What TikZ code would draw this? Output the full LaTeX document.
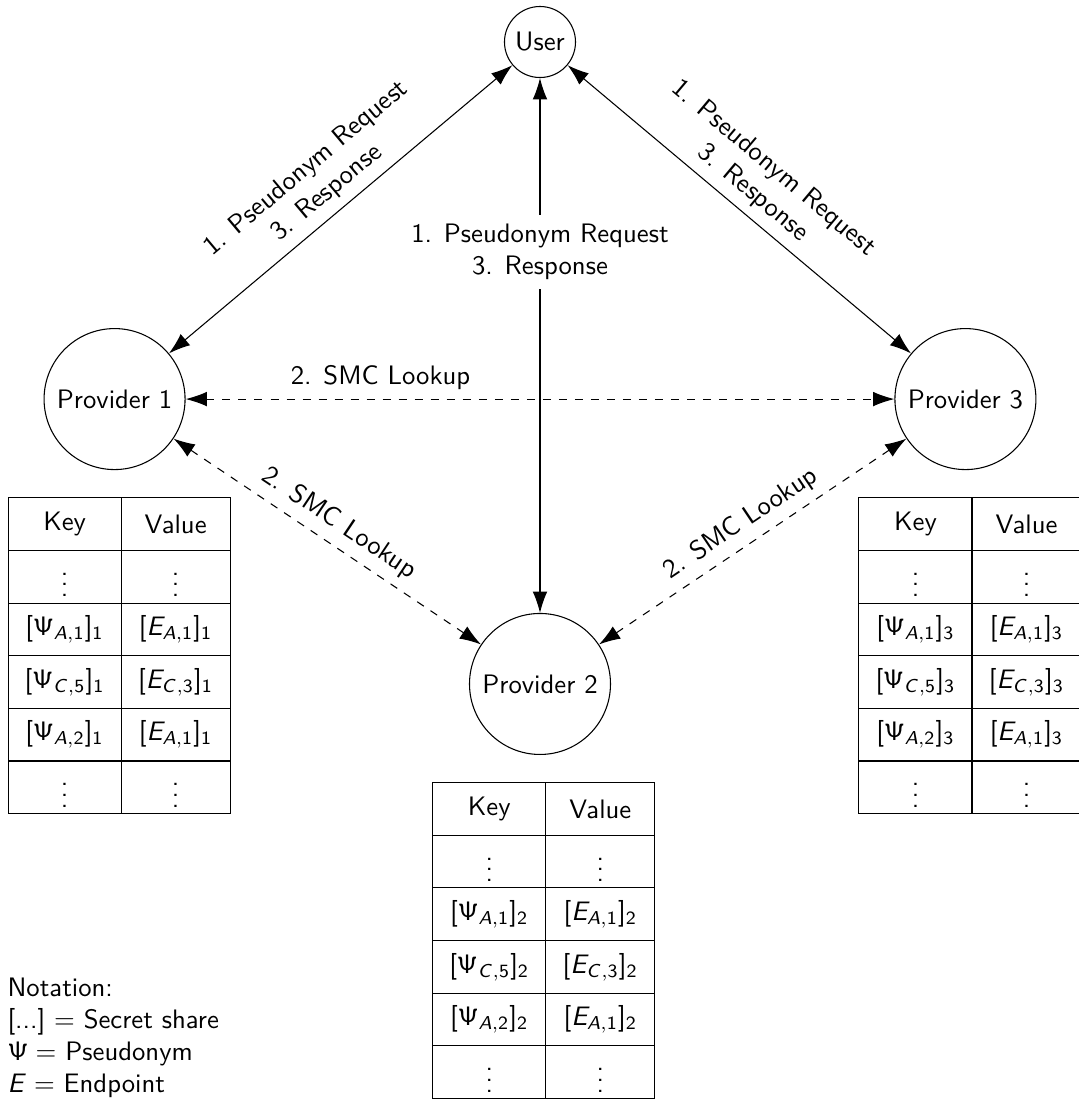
\documentclass[tikz,border=0pt]{standalone}
\usetikzlibrary{
    arrows.meta,
    positioning,
    matrix
}
% sans serif math: upright sans digits, Psi and brackets, slanted sans letters
\SetSymbolFont{operators}{normal}{OT1}{cmss}{m}{n}
\DeclareSymbolFont{sfslant}{OT1}{cmss}{m}{sl}
\DeclareMathSymbol{A}{\mathalpha}{sfslant}{`A}
\DeclareMathSymbol{C}{\mathalpha}{sfslant}{`C}
\DeclareMathSymbol{E}{\mathalpha}{sfslant}{`E}
\tikzset{party/.style={circle, draw=black, inner sep=1pt}}
\tikzset{kvtab/.style={matrix of nodes, inner sep=0pt,
    nodes={draw=black, inner sep=0pt, minimum height=0.693cm, anchor=center},
    column 1/.style={nodes={minimum width=1.488cm}},
    column 2/.style={nodes={minimum width=1.435cm}},
    column sep=-0.4pt, row sep=-0.4pt}}

\begin{document}
\begin{tikzpicture}[font=\sffamily, >={Latex[length=8pt, width=5.5pt]}]
                    \useasboundingbox (-7.108, 0.553) rectangle (7.095, -13.979);

                    \node[party, minimum size=0.935cm] (user) at (0, 0) {User};
                    \node[party, minimum size=1.856cm] (prov1) at (-5.6, -4.7) {Provider 1};
                    \node[party, minimum size=1.856cm] (prov3) at (5.6, -4.7) {Provider 3};
                    \node[party, minimum size=1.856cm] (prov2) at (0, -8.45) {Provider 2};

                    \draw
                    (prov1) edge[<->] node[above, sloped, align=center] {1. Pseudonym Request\\3. Response} (user)
                    (user) edge[<->] node[above, sloped, align=center] {1. Pseudonym Request\\3. Response} (prov3)
                    (user) edge[<->] node[fill=white, align=center, pos=0.325] {1. Pseudonym Request\\3. Response} (prov2);

                    \draw
                    (prov1) edge[<->, dashed] node[above, pos=0.275] {2. SMC Lookup} (prov3)
                    (prov1) edge[<->, dashed] node[above, sloped] {2. SMC Lookup} (prov2)
                    (prov2) edge[<->, dashed] node[above, sloped] {2. SMC Lookup} (prov3);

                    \matrix[kvtab, below=0.35cm of prov1, xshift=0.06cm] (tab1) {
                        Key & Value \\
                        $\vdots$ & $\vdots$ \\
                        $[\Psi_{A,1}]_1$ & $[E_{A,1}]_1$ \\
                        $[\Psi_{C,5}]_1$ & $[E_{C,3}]_1$ \\
                        $[\Psi_{A,2}]_1$ & $[E_{A,1}]_1$ \\
                        $\vdots$ & $\vdots$ \\
                    };
                    \matrix[kvtab, below=0.35cm of prov2, xshift=0.05cm] (tab2) {
                        Key & Value \\
                        $\vdots$ & $\vdots$ \\
                        $[\Psi_{A,1}]_2$ & $[E_{A,1}]_2$ \\
                        $[\Psi_{C,5}]_2$ & $[E_{C,3}]_2$ \\
                        $[\Psi_{A,2}]_2$ & $[E_{A,1}]_2$ \\
                        $\vdots$ & $\vdots$ \\
                    };
                    \matrix[kvtab, below=0.35cm of prov3, xshift=0.06cm] (tab3) {
                        Key & Value \\
                        $\vdots$ & $\vdots$ \\
                        $[\Psi_{A,1}]_3$ & $[E_{A,1}]_3$ \\
                        $[\Psi_{C,5}]_3$ & $[E_{C,3}]_3$ \\
                        $[\Psi_{A,2}]_3$ & $[E_{A,1}]_3$ \\
                        $\vdots$ & $\vdots$ \\
                    };

                    \node[anchor=north west, align=left, inner sep=0pt] (notation) at (-7.016, -12.307)
                    {Notation:\\{[...]}\ $=$ Secret share\\$\Psi =$ Pseudonym\\$E =$ Endpoint};
                \end{tikzpicture}
\end{document}
